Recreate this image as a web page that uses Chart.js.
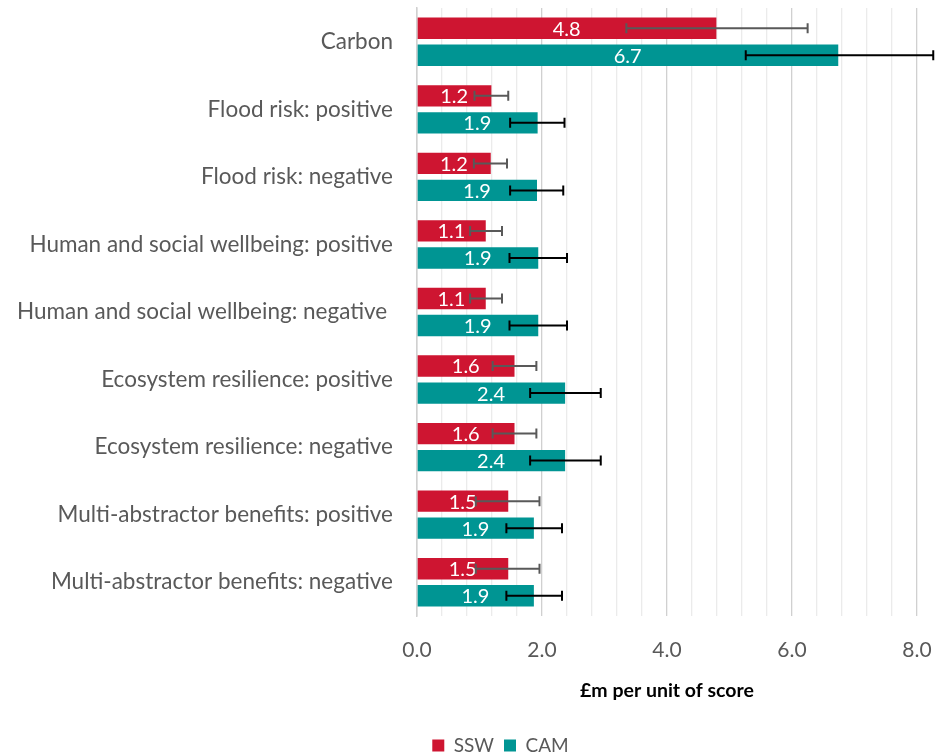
<!DOCTYPE html>
<html lang="en">
<head>
    <meta charset="UTF-8">
    <title>£m per unit of score</title>
    <script src="https://cdn.jsdelivr.net/npm/chart.js@4.4.1/dist/chart.umd.min.js"></script>
    <style>
        html, body { margin: 0; padding: 0; background: #fff; }
        #wrap { width: 935px; height: 755px; }
    </style>
</head>
<body>
    <div id="wrap"><canvas id="myChart" width="935" height="755"></canvas></div>
    <script>
        // categories and values
        var categories = [
            'Carbon',
            'Flood risk: positive',
            'Flood risk: negative',
            'Human and social wellbeing: positive',
            'Human and social wellbeing: negative ',
            'Ecosystem resilience: positive',
            'Ecosystem resilience: negative',
            'Multi-abstractor benefits: positive',
            'Multi-abstractor benefits: negative'
        ];
        var sswValues = [4.79, 1.19, 1.18, 1.10, 1.10, 1.56, 1.56, 1.46, 1.46];
        var camValues = [6.74, 1.93, 1.92, 1.94, 1.94, 2.37, 2.37, 1.87, 1.87];
        var sswLow  = [3.35, 0.92, 0.91, 0.85, 0.85, 1.21, 1.21, 0.94, 0.94];
        var sswHigh = [6.25, 1.46, 1.44, 1.36, 1.36, 1.91, 1.91, 1.96, 1.96];
        var camLow  = [5.26, 1.49, 1.49, 1.48, 1.48, 1.81, 1.81, 1.43, 1.43];
        var camHigh = [8.26, 2.36, 2.34, 2.40, 2.40, 2.94, 2.94, 2.32, 2.32];
        var xTicks = [0, 2, 4, 6, 8];

        var sswColor = '#CE1531';
        var camColor = '#009593';
        var font = "Lato, 'Open Sans', sans-serif";

        // error bars and value labels drawn on top of the bars
        var barExtras = {
            id: 'barExtras',
            afterLayout: function (chart) {
                // legend sits a little right of the canvas centre
                chart.legend.left += 42;
                chart.legend.right += 42;
            },
            afterDatasetsDraw: function (chart) {
                var ctx = chart.ctx;
                var xs = chart.scales.x;
                var ranges = [[sswLow, sswHigh, '#595959'], [camLow, camHigh, '#000000']];
                chart.data.datasets.forEach(function (ds, di) {
                    var meta = chart.getDatasetMeta(di);
                    meta.data.forEach(function (bar, i) {
                        // value label
                        ctx.save();
                        ctx.fillStyle = '#ffffff';
                        ctx.font = '20px ' + font;
                        ctx.textAlign = 'center';
                        ctx.textBaseline = 'middle';
                        var x0 = xs.getPixelForValue(0);
                        ctx.fillText(ds.data[i].toFixed(1), (x0 + bar.x) / 2, bar.y + 1);
                        ctx.restore();

                        // error bar
                        var lo = xs.getPixelForValue(ranges[di][0][i]);
                        var hi = xs.getPixelForValue(ranges[di][1][i]);
                        ctx.save();
                        ctx.strokeStyle = ranges[di][2];
                        ctx.lineWidth = 2;
                        ctx.beginPath();
                        ctx.moveTo(lo, bar.y); ctx.lineTo(hi, bar.y);
                        ctx.moveTo(lo, bar.y - 5); ctx.lineTo(lo, bar.y + 5);
                        ctx.moveTo(hi, bar.y - 5); ctx.lineTo(hi, bar.y + 5);
                        ctx.stroke();
                        ctx.restore();
                    });
                });
            }
        };

        var ctx = document.getElementById('myChart').getContext('2d');
        var myChart = new Chart(ctx, {
            type: 'bar',
            data: {
                labels: categories,
                datasets: [{
                    label: 'SSW',
                    data: sswValues,
                    backgroundColor: sswColor,
                    categoryPercentage: 0.8,
                    barPercentage: 0.79
                }, {
                    label: 'CAM',
                    data: camValues,
                    backgroundColor: camColor,
                    categoryPercentage: 0.8,
                    barPercentage: 0.79
                }]
            },
            options: {
                indexAxis: 'y',
                responsive: false,
                animation: false,
                layout: { padding: { top: 8, right: 18, left: 0, bottom: -10 } },
                scales: {
                    x: {
                        min: 0,
                        max: 8,
                        afterBuildTicks: function (scale) {
                            var t = [];
                            for (var k = 0; k <= 20; k++) t.push({ value: +(k * 0.4).toFixed(1) });
                            scale.ticks = t;
                        },
                        ticks: {
                            autoSkip: false,
                            maxRotation: 0,
                            padding: 22,
                            color: '#595959',
                            font: { family: font, size: 21 },
                            callback: function (v) {
                                return xTicks.indexOf(Math.round(v * 10) / 10) >= 0 ? v.toFixed(1) : '';
                            }
                        },
                        grid: {
                            drawTicks: false,
                            color: function (c) {
                                var v = Math.round(c.tick.value * 10) / 10;
                                return xTicks.indexOf(v) >= 0 ? '#d0d0d0' : '#ebebeb';
                            },
                            lineWidth: 1.3
                        },
                        border: { display: false },
                        title: {
                            display: true,
                            text: '£m per unit of score',
                            color: '#000000',
                            font: { family: font, size: 19.5, weight: 'bold' },
                            padding: { top: 0, bottom: 24 }
                        },
                        afterFit: function (scale) {
                            scale.height = 110;
                            scale.paddingRight = 0;
                            scale.paddingLeft = 0;
                        }
                    },
                    y: {
                        ticks: {
                            color: '#595959',
                            padding: 24,
                            font: { family: font, size: 22.5 }
                        },
                        grid: { display: false, drawTicks: false },
                        border: { display: true, color: '#d0d0d0', width: 1.5 },
                        afterFit: function (scale) {
                            scale.width = 417;
                            scale.paddingTop = 0;
                            scale.paddingBottom = 0;
                        }
                    }
                },
                plugins: {
                    legend: {
                        position: 'bottom',
                        labels: {
                            boxWidth: 12,
                            boxHeight: 12,
                            color: '#595959',
                            font: { family: font, size: 19 },
                            padding: 10
                        }
                    },
                    tooltip: { enabled: false }
                }
            },
            plugins: [barExtras]
        });
    </script>
</body>
</html>
